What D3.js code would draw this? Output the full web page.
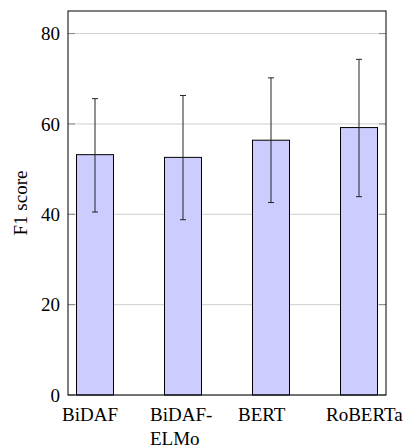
<!DOCTYPE html>
<html>
<head>
<meta charset="utf-8">
<script src="https://cdn.jsdelivr.net/npm/d3@7"></script>
<style>
	body { margin: 0; background: #fff; }
	#fontwarm { position: absolute; left: -9999px; top: 0; font-family: 'Liberation Serif'; font-size: 19px; }
</style>
</head>
<body>
<div id="fontwarm">BiDAF ELMo BERT RoBERTa F1 score 0 20 40 60 80</div>
<svg id="chart" width="405" height="448"></svg>
<script>
// data
const models = ["BiDAF", "BiDAF-ELMo", "BERT", "RoBERTa"];
const modelLabels = [["BiDAF"], ["BiDAF-", "ELMo"], ["BERT"], ["RoBERTa"]];
const f1 = [53.2, 52.6, 56.4, 59.2];
const errLow = [40.5, 38.8, 42.6, 43.9];
const errHigh = [65.6, 66.3, 70.2, 74.3];
const yTicks = [0, 20, 40, 60, 80];

const labelFont = "'Liberation Serif'";
const labelSize = "19px";

const margin = {top: 11, right: 19, bottom: 53, left: 68};
const width = 405 - margin.left - margin.right;
const height = 448 - margin.top - margin.bottom;

function draw() {
	const svg = d3.select("#chart");
	svg.selectAll("*").remove();
	const g = svg.append("g")
		.attr("transform", "translate(" + margin.left + "," + margin.top + ")");

	const xScale = d3.scalePoint()
		.domain(models)
		.range([27, width - 27]);

	const yScale = d3.scaleLinear()
		.domain([0, 85])
		.range([height, 0]);

	const barWidth = 37;
	const capHalf = 3;

	// grid
	g.selectAll(".grid").data(yTicks).enter().append("line")
		.attr("x1", 0).attr("x2", width)
		.attr("y1", d => yScale(d)).attr("y2", d => yScale(d))
		.attr("stroke", "#cfcfcf").attr("stroke-width", 1);

	// tick marks inside on both sides
	g.selectAll(".tickl").data(yTicks).enter().append("line")
		.attr("x1", 0).attr("x2", 7)
		.attr("y1", d => yScale(d)).attr("y2", d => yScale(d))
		.attr("stroke", "#888").attr("stroke-width", 1);
	g.selectAll(".tickr").data(yTicks).enter().append("line")
		.attr("x1", width - 7).attr("x2", width)
		.attr("y1", d => yScale(d)).attr("y2", d => yScale(d))
		.attr("stroke", "#888").attr("stroke-width", 1);

	// bars
	g.selectAll(".bar").data(models).enter().append("rect")
		.attr("x", d => xScale(d) - barWidth / 2)
		.attr("y", (d, i) => yScale(f1[i]))
		.attr("width", barWidth)
		.attr("height", (d, i) => yScale(0) - yScale(f1[i]))
		.attr("fill", "#ccccff")
		.attr("stroke", "#000")
		.attr("stroke-width", 1);

	// error bars
	const err = g.selectAll(".err").data(models).enter().append("g");
	err.append("line")
		.attr("x1", d => xScale(d)).attr("x2", d => xScale(d))
		.attr("y1", (d, i) => yScale(errLow[i]))
		.attr("y2", (d, i) => yScale(errHigh[i]))
		.attr("stroke", "#222").attr("stroke-width", 1);
	err.append("line")
		.attr("x1", d => xScale(d) - capHalf).attr("x2", d => xScale(d) + capHalf)
		.attr("y1", (d, i) => yScale(errHigh[i]))
		.attr("y2", (d, i) => yScale(errHigh[i]))
		.attr("stroke", "#222").attr("stroke-width", 1);
	err.append("line")
		.attr("x1", d => xScale(d) - capHalf).attr("x2", d => xScale(d) + capHalf)
		.attr("y1", (d, i) => yScale(errLow[i]))
		.attr("y2", (d, i) => yScale(errLow[i]))
		.attr("stroke", "#222").attr("stroke-width", 1);

	// frame
	g.append("rect")
		.attr("x", 0).attr("y", 0)
		.attr("width", width).attr("height", height)
		.attr("fill", "none")
		.attr("stroke", "#000")
		.attr("stroke-width", 1);

	// y axis labels
	const yAxis = d3.axisLeft(yScale).tickValues(yTicks).tickSize(0).tickPadding(8);
	g.append("g")
		.call(yAxis)
		.attr("font-family", labelFont)
		.attr("font-size", labelSize)
		.call(a => a.select(".domain").remove())
		.selectAll("text")
		.style("font-family", labelFont)
		.style("font-size", labelSize)
		.attr("fill", "#000");

	// x labels, left aligned in a box around each tick
	const xl = g.selectAll(".xlab").data(models).enter().append("text")
		.attr("x", d => xScale(d) - 33)
		.attr("y", height + 26)
		.style("font-family", labelFont)
		.style("font-size", labelSize)
		.attr("fill", "#000");
	xl.selectAll("tspan").data((d, i) => modelLabels[i]).enter().append("tspan")
		.attr("x", function() { return d3.select(this.parentNode).attr("x"); })
		.attr("dy", (d, j) => j === 0 ? 0 : 24)
		.text(d => d);

	// y title
	svg.append("text")
		.attr("transform", "translate(27," + (margin.top + height / 2) + ") rotate(-90)")
		.attr("text-anchor", "middle")
		.style("font-family", labelFont)
		.style("font-size", labelSize)
		.attr("fill", "#000")
		.text("F1 score");

	xl.each(function() { this.getBBox(); });
}

draw();
if (document.fonts) {
	document.fonts.load("19px 'Liberation Serif'").then(draw);
}
</script>
</body>
</html>
